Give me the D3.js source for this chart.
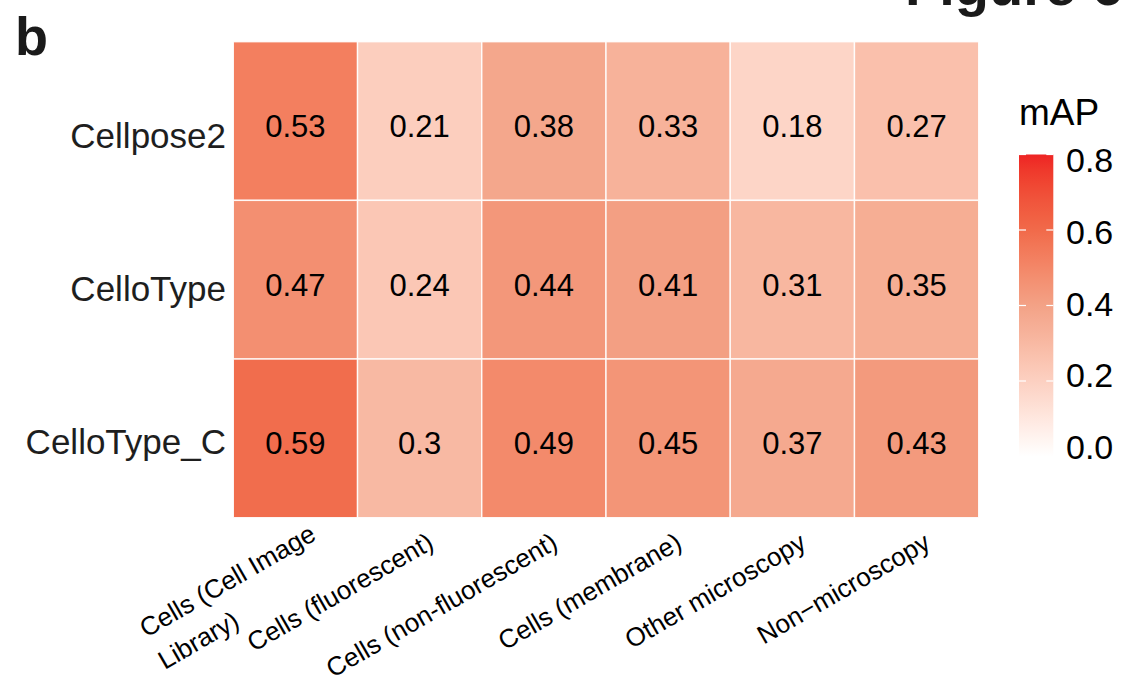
<!DOCTYPE html>
<html>
<head>
<meta charset="utf-8">
<script src="https://cdn.jsdelivr.net/npm/d3@7"></script>
<style>
  html, body { margin: 0; padding: 0; background: #fff; }
  svg { display: block; font-family: "Liberation Sans", Arial, Helvetica, sans-serif; }
</style>
</head>
<body>
<svg id="chart" width="1135" height="686"></svg>
<script>
// Methods (rows) and dataset categories (columns)
const methods = ["Cellpose2", "CelloType", "CelloType_C"];
const categories = [
  "Cells (Cell Image\nLibrary)",
  "Cells (fluorescent)",
  "Cells (non-fluorescent)",
  "Cells (membrane)",
  "Other microscopy",
  "Non\u2212microscopy"
];

// mAP per category for each method
const cellpose2Map  = [0.53, 0.21, 0.38, 0.33, 0.18, 0.27];
const celloTypeMap  = [0.47, 0.24, 0.44, 0.41, 0.31, 0.35];
const celloTypeCMap = [0.59, 0.30, 0.49, 0.45, 0.37, 0.43];

// Colour bar ticks
const legendTicks = [0, 0.2, 0.4, 0.6, 0.8];

const seriesByMethod = [cellpose2Map, celloTypeMap, celloTypeCMap];
const cells = [];
methods.forEach((m, i) => {
  categories.forEach((c, j) => {
    cells.push({ method: m, category: c, value: seriesByMethod[i][j] });
  });
});

const svg = d3.select("#chart");

const x = d3.scaleBand().domain(categories).range([233.3, 978.7]);
const y = d3.scaleBand().domain(methods).range([41.7, 517.7]);

// White-to-red ramp through warm salmon tones
const color = d3.scaleLinear()
  .domain(legendTicks)
  .range(["#ffffff", "#fcd0c1", "#f3a286", "#f16a4a", "#ee2424"])
  .interpolate(d3.interpolateLab)
  .clamp(true);

// Heatmap tiles
svg.append("g")
  .selectAll("rect")
  .data(cells)
  .join("rect")
  .attr("x", d => x(d.category))
  .attr("y", d => y(d.method))
  .attr("width", x.bandwidth())
  .attr("height", y.bandwidth())
  .attr("fill", d => color(d.value))
  .attr("stroke", "#ffffff")
  .attr("stroke-opacity", 0.9)
  .attr("stroke-width", 1.4);

// Values inside tiles
svg.append("g")
  .selectAll("text")
  .data(cells)
  .join("text")
  .attr("x", d => x(d.category) + x.bandwidth() / 2)
  .attr("y", d => y(d.method) + y.bandwidth() / 2 + 16)
  .attr("text-anchor", "middle")
  .attr("font-size", 31)
  .attr("fill", "#000")
  .text(d => String(d.value));

// Row labels
const rowLabelY = d3.scalePoint().domain(methods).range([136, 441.5]);
svg.append("g")
  .selectAll("text")
  .data(methods)
  .join("text")
  .attr("x", 226)
  .attr("y", d => rowLabelY(d) + 12)
  .attr("text-anchor", "end")
  .attr("font-size", 35)
  .attr("fill", "#1e1e1e")
  .text(d => d);

// Rotated column labels (multi-line labels are left-aligned under the first line)
const labelSize = 26;
const colG = svg.append("g")
  .selectAll("g")
  .data(categories)
  .join("g")
  .attr("transform", d => `translate(${x(d) + x.bandwidth() / 2 + 6},${531}) rotate(-30)`);

colG.each(function(d) {
  const g = d3.select(this);
  const lines = d.split("\n");
  const multi = lines.length > 1;
  const x0 = multi ? 10 : 0;
  const y0 = multi ? 15 : 19;
  const first = g.append("text")
    .attr("text-anchor", "end")
    .attr("font-size", labelSize)
    .attr("x", x0)
    .attr("y", y0)
    .attr("fill", "#000")
    .text(lines[0]);
  if (multi) {
    const w = first.node().getComputedTextLength();
    g.append("text")
      .attr("text-anchor", "start")
      .attr("font-size", labelSize)
      .attr("x", x0 - w)
      .attr("y", y0 + 37)
      .attr("fill", "#000")
      .text(lines[1]);
  }
});

// Colour bar legend
const legendScale = d3.scaleLinear().domain([0, 0.8]).range([456.5, 154.5]);
const barX = 1019, barW = 34.3;
const defs = svg.append("defs");
const grad = defs.append("linearGradient")
  .attr("id", "mapGradient")
  .attr("x1", 0).attr("y1", 1).attr("x2", 0).attr("y2", 0);
d3.range(0, 1.0001, 0.05).forEach(t => {
  grad.append("stop")
    .attr("offset", t)
    .attr("stop-color", color(t * 0.8));
});
svg.append("rect")
  .attr("x", barX)
  .attr("y", legendScale(0.8))
  .attr("width", barW)
  .attr("height", legendScale(0) - legendScale(0.8))
  .attr("fill", "url(#mapGradient)");

const tickG = svg.append("g");
tickG.selectAll("line.l")
  .data(legendTicks)
  .join("line")
  .attr("class", "l")
  .attr("x1", barX).attr("x2", barX + 7)
  .attr("y1", d => legendScale(d)).attr("y2", d => legendScale(d))
  .attr("stroke", "#fff").attr("stroke-width", 1.2);
tickG.selectAll("line.r")
  .data(legendTicks)
  .join("line")
  .attr("class", "r")
  .attr("x1", barX + barW - 7).attr("x2", barX + barW)
  .attr("y1", d => legendScale(d)).attr("y2", d => legendScale(d))
  .attr("stroke", "#fff").attr("stroke-width", 1.2);

// Tick labels kept inside the bar's vertical extent
const legendLabelY = d3.scaleLinear().domain([0, 0.8]).range([447, 160]);
svg.append("g")
  .selectAll("text")
  .data(legendTicks)
  .join("text")
  .attr("x", 1066)
  .attr("y", d => legendLabelY(d) + 12)
  .attr("font-size", 34)
  .attr("fill", "#000")
  .text(d => d3.format(".1f")(d));

svg.append("text")
  .attr("x", 1019)
  .attr("y", 125)
  .attr("font-size", 37)
  .attr("fill", "#000")
  .text("mAP");

// Panel letter and figure heading
svg.append("text")
  .attr("x", 15)
  .attr("y", 55)
  .attr("font-size", 54)
  .attr("font-weight", "bold")
  .attr("fill", "#1a1a1a")
  .text("b");

svg.append("text")
  .attr("x", 905)
  .attr("y", 5)
  .attr("font-size", 56)
  .attr("font-weight", "bold")
  .attr("fill", "#1a1a1a")
  .text("Figure 6");
</script>
</body>
</html>
